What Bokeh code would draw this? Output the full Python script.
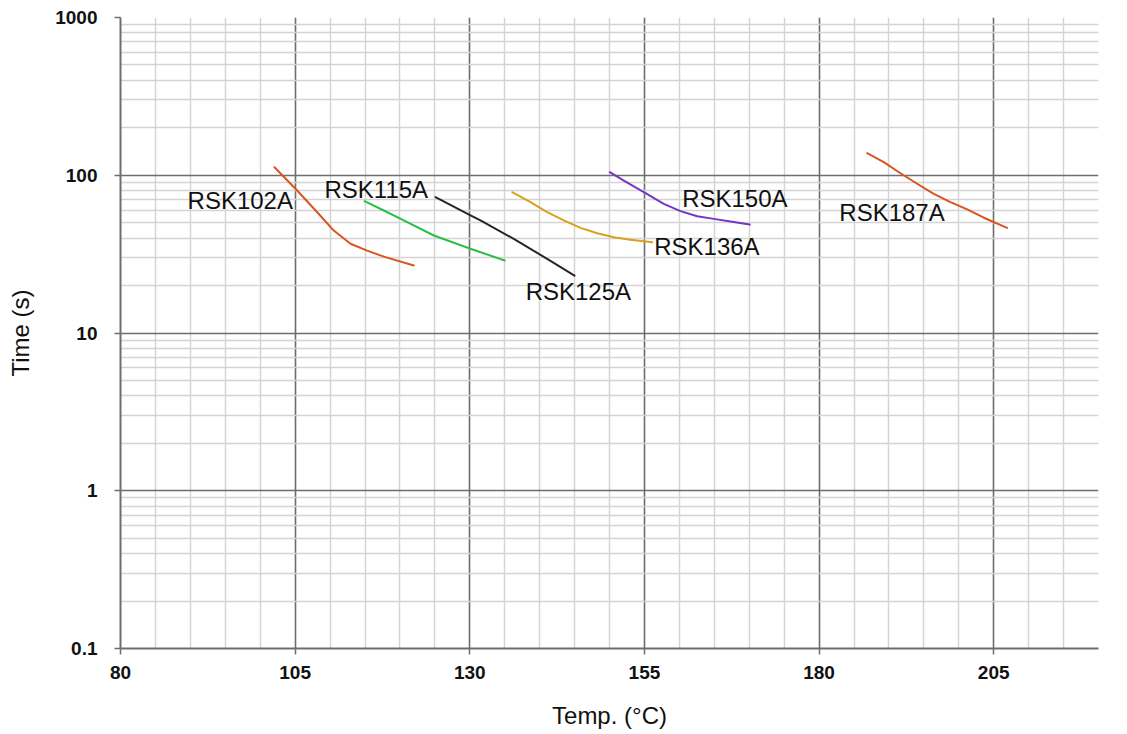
from bokeh.plotting import figure
from bokeh.models import FixedTicker, Range1d
from bokeh.core.properties import value
from bokeh.embed import file_html
from bokeh.resources import INLINE

# ---- data ----
rsk102a_t = [102.04, 105.29, 108.16, 110.53, 112.92, 115.31, 117.69, 121.98]
rsk102a_s = [112.5, 80.0, 58.3, 44.6, 36.8, 33.3, 30.5, 26.8]

rsk115a_t = [114.93, 117.69, 120.55, 124.85, 130.10, 135.0]
rsk115a_s = [68.5, 59.8, 51.7, 41.5, 34.2, 28.8]

rsk125a_t = [125.09, 130.10, 131.53, 136.30, 141.08, 144.99]
rsk125a_s = [72.6, 55.6, 51.7, 39.5, 29.5, 23.1]

rsk136a_t = [136.07, 138.69, 141.08, 143.46, 145.85, 148.24, 150.62, 153.00, 156.11]
rsk136a_s = [78.1, 67.5, 58.3, 51.7, 46.4, 42.9, 40.5, 39.0, 37.6]

rsk150a_t = [150.04, 152.05, 154.91, 157.77, 160.16, 162.55, 164.93, 167.32, 170.08]
rsk150a_s = [104.5, 92.6, 78.1, 65.9, 59.2, 55.0, 52.9, 50.9, 48.7]

rsk187a_t = [186.88, 189.26, 191.65, 194.04, 196.42, 198.81, 201.20, 203.58, 206.92]
rsk187a_s = [138, 121, 103, 88.3, 76.3, 67.5, 60.7, 53.8, 46.4]

series_names = ["RSK102A", "RSK115A", "RSK125A", "RSK136A", "RSK150A", "RSK187A"]
series_colors = ["#d9541e", "#2cbf48", "#262626", "#d9a020", "#7436c4", "#d9541e"]
label_t = [89.6, 109.2, 138.0, 156.4, 160.4, 182.9]
label_s = [69.1, 81.3, 18.4, 35.3, 71.3, 58.1]

x_ticks = [80, 105, 130, 155, 180, 205]
x_minor = list(range(80, 221, 5))
y_ticks = [0.1, 1, 10, 100, 1000]
y_tick_labels = ["0.1", "1", "10", "100", "1000"]
y_minor = [m * d for d in [0.1, 1, 10, 100] for m in range(2, 10)]

p = figure(width=1119, height=734, y_axis_type="log",
           x_range=Range1d(80, 220), y_range=Range1d(0.1, 1000),
           output_backend="svg", toolbar_location=None,
           min_border_left=120, min_border_right=21,
           min_border_top=17, min_border_bottom=86)
p.outline_line_color = None
p.background_fill_color = "white"
p.border_fill_color = "white"

# grids
p.xgrid.ticker = FixedTicker(ticks=x_ticks, minor_ticks=x_minor)
p.ygrid.ticker = FixedTicker(ticks=y_ticks, minor_ticks=y_minor)
for g in (p.xgrid, p.ygrid):
    g.grid_line_color = "#6e6e6e"
    g.grid_line_width = 1.5
    g.grid_line_alpha = 1
    g.minor_grid_line_color = "#d4d4d4"
    g.minor_grid_line_width = 1.5

# axes
p.xaxis.ticker = FixedTicker(ticks=x_ticks, minor_ticks=x_minor)
p.yaxis.ticker = FixedTicker(ticks=y_ticks, minor_ticks=y_minor)
p.yaxis.major_label_overrides = {t: l for t, l in zip(y_ticks, y_tick_labels)}
for ax in (p.xaxis, p.yaxis):
    ax.axis_line_color = "#6e6e6e"
    ax.axis_line_width = 2
    ax.major_tick_line_color = "#6e6e6e"
    ax.major_tick_line_width = 1.5
    ax.major_tick_out = 6
    ax.major_tick_in = 0
    ax.minor_tick_out = 0
    ax.minor_tick_in = 0
    ax.major_label_text_font = "Liberation Sans"
    ax.major_label_text_font_style = "bold"
    ax.major_label_text_font_size = "19px"
    ax.major_label_text_color = "#111111"
    ax.axis_label_text_font = "Liberation Sans"
    ax.axis_label_text_font_style = "normal"
    ax.axis_label_text_font_size = "24px"
    ax.axis_label_text_color = "#111111"

p.xaxis.axis_label = "Temp. (°C)"
p.yaxis.axis_label = "Time (s)"
p.xaxis.major_label_standoff = 11
p.xaxis.axis_label_standoff = 20
p.yaxis.major_label_standoff = 17
p.yaxis.axis_label_standoff = 18

# curves
all_t = [rsk102a_t, rsk115a_t, rsk125a_t, rsk136a_t, rsk150a_t, rsk187a_t]
all_s = [rsk102a_s, rsk115a_s, rsk125a_s, rsk136a_s, rsk150a_s, rsk187a_s]
for t, s, c in zip(all_t, all_s, series_colors):
    p.line(t, s, line_color=c, line_width=2, line_join="round", line_cap="round")

p.text(x=label_t, y=label_s, text=series_names,
       text_font=value("Liberation Sans"), text_font_size="24px",
       text_color="#111111", text_baseline="alphabetic", text_align="left")

open("out.html", "w").write(file_html(p, INLINE))
